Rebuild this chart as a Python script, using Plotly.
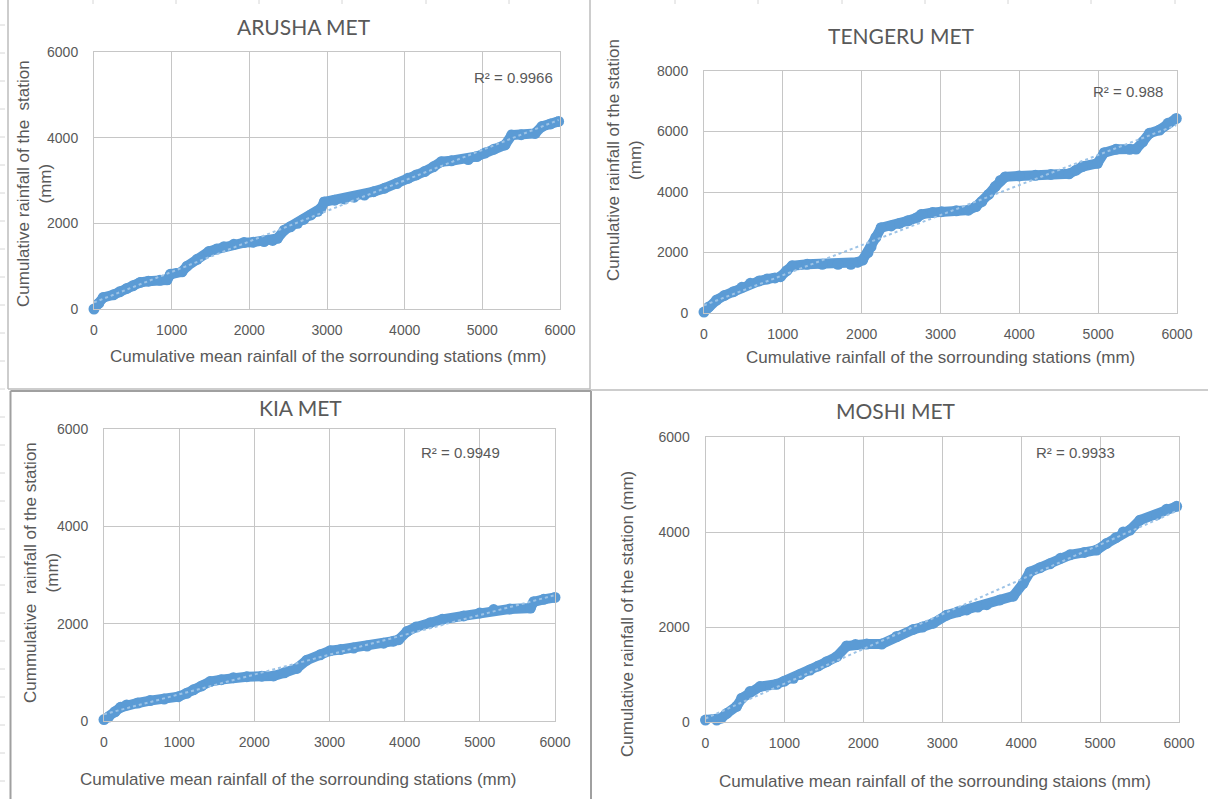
import numpy as np
import plotly.graph_objects as go

# ---- Double-mass curve data (cumulative rainfall, mm) ----
arusha_x = [0, 60, 120, 250, 330, 423, 500, 595, 700, 850, 940, 983, 1133, 1199, 1328, 1478,
            1580, 1673, 1800, 1931, 2050, 2190, 2300, 2362, 2449, 2530, 2621, 2700, 2793, 2880,
            2922, 2965, 3100, 3224, 3350, 3482, 3600, 3741, 3900, 4042, 4150, 4258, 4370, 4473,
            4600, 4818, 4930, 5033, 5150, 5292, 5378, 5500, 5679, 5767, 5880, 5982]
arusha_y = [0, 130, 270, 330, 400, 480, 540, 620, 650, 670, 680, 810, 870, 1000, 1160, 1340,
            1400, 1455, 1510, 1550, 1560, 1575, 1600, 1650, 1840, 1920, 2000, 2090, 2195, 2280,
            2350, 2500, 2540, 2570, 2610, 2660, 2740, 2820, 2930, 3050, 3130, 3210, 3320, 3440,
            3460, 3490, 3560, 3640, 3730, 3830, 4060, 4070, 4100, 4260, 4320, 4380]

tengeru_x = [0, 60, 161, 260, 375, 480, 587, 700, 800, 900, 970, 1050, 1118, 1309, 1500, 1700,
             1863, 1950, 2012, 2080, 2119, 2180, 2247, 2375, 2480, 2587, 2700, 2757, 2900, 3013,
             3200, 3353, 3450, 3524, 3610, 3694, 3760, 3821, 4000, 4204, 4400, 4630, 4720, 4800,
             4991, 5077, 5226, 5400, 5481, 5565, 5650, 5779, 5885, 5991]
tengeru_y = [30, 200, 430, 580, 705, 850, 980, 1060, 1120, 1160, 1200, 1400, 1560, 1610, 1610, 1610,
             1610, 1680, 1750, 2000, 2190, 2500, 2820, 2880, 2960, 3050, 3150, 3260, 3320, 3350,
             3380, 3400, 3520, 3680, 3920, 4180, 4380, 4500, 4530, 4550, 4580, 4600, 4720, 4840,
             4950, 5300, 5410, 5410, 5420, 5660, 5940, 6050, 6270, 6430]

kia_x = [0, 60, 146, 220, 302, 450, 613, 800, 990, 1100, 1190, 1300, 1412, 1560, 1722, 1900,
         2100, 2255, 2400, 2566, 2699, 2877, 3010, 3150, 3321, 3500, 3720, 3850, 3920, 4032,
         4150, 4342, 4500, 4785, 5000, 5184, 5400, 5673, 5717, 5850, 6000]
kia_y = [30, 80, 190, 280, 330, 370, 420, 450, 500, 570, 640, 720, 810, 850, 890, 910,
         920, 925, 990, 1080, 1250, 1360, 1445, 1470, 1500, 1540, 1600, 1640, 1670, 1840,
         1930, 2020, 2090, 2160, 2220, 2290, 2300, 2320, 2450, 2500, 2540]

moshi_x = [0, 142, 200, 269, 395, 459, 564, 691, 902, 1000, 1113, 1200, 1324, 1430, 1536, 1662,
           1789, 1900, 2043, 2233, 2423, 2633, 2750, 2887, 3056, 3200, 3310, 3450, 3563, 3732,
           3900, 4027, 4112, 4240, 4365, 4500, 4619, 4800, 4957, 5083, 5200, 5294, 5379, 5506,
           5717, 5844, 5970]
moshi_y = [40, 42, 80, 180, 330, 500, 640, 745, 795, 860, 920, 1000, 1095, 1180, 1270, 1375,
           1600, 1630, 1640, 1640, 1800, 1950, 2000, 2080, 2250, 2320, 2360, 2420, 2470, 2570,
           2650, 2920, 3160, 3250, 3330, 3450, 3520, 3570, 3620, 3760, 3880, 4000, 4040, 4250,
           4360, 4480, 4540]

titles = ["ARUSHA MET", "TENGERU MET", "KIA MET", "MOSHI MET"]
r2_labels = ["R² = 0.9966", "R² = 0.988", "R² = 0.9949", "R² = 0.9933"]
x_titles = [
    "Cumulative mean rainfall of the sorrounding stations (mm)",
    "Cumulative rainfall of the sorrounding stations (mm)",
    "Cumulative mean rainfall of the sorrounding stations (mm)",
    "Cumulative mean rainfall of the sorrounding staions (mm)",
]
y_titles = [
    "Cumulative rainfall of the  station<br>(mm)",
    "Cumulative rainfall of the station<br>(mm)",
    "Cummulative  rainfall of the station<br>(mm)",
    "Cumulative rainfall of the station (mm)",
]
x_ticks = [0, 1000, 2000, 3000, 4000, 5000, 6000]
y_max = [6000, 8000, 6000, 6000]

series = [(arusha_x, arusha_y), (tengeru_x, tengeru_y), (kia_x, kia_y), (moshi_x, moshi_y)]

W, H = 1208, 799
BLUE = "#5B9BD5"
TREND = "#9DC3E6"
GRID = "#C6C6C6"
TXT = "#595959"
FONT = "Liberation Sans, Arial, sans-serif"
TFONT = "Lato, Open Sans, sans-serif"


def px(x):
    return x / W


def py(y):
    return 1 - y / H


# plot-area boxes in pixels: (left, right, top, bottom)
boxes = [(94, 560, 52, 309), (704, 1177, 71, 313), (104, 555, 429, 721), (705.5, 1179, 437, 722)]
title_pos = [(304, 27), (901, 35), (300, 408), (896, 410)]
r2_pos = [(555, 77), (1165, 91), (502, 452), (1117, 452)]
xt_pos = [(328, 356), (940, 357), (298, 779), (935, 781)]
yt_pos = [(35, 184), (624, 160), (41, 573), (627, 614)]

fig = go.Figure()
annotations = []
shapes = []

for i, (xs, ys) in enumerate(series):
    n = "" if i == 0 else str(i + 1)
    xa, ya = "x" + n, "y" + n
    xs_a, ys_a = np.array(xs, float), np.array(ys, float)

    fig.add_trace(go.Scatter(
        x=xs, y=ys, xaxis=xa, yaxis=ya, mode="lines+markers",
        line=dict(color=BLUE, width=10),
        marker=dict(color=BLUE, size=11),
        cliponaxis=False, showlegend=False, hoverinfo="skip"))

    # linear trendline
    slope, icpt = np.polyfit(xs_a, ys_a, 1)
    tx = np.array([xs_a.min(), xs_a.max()])
    fig.add_trace(go.Scatter(
        x=tx, y=slope * tx + icpt, xaxis=xa, yaxis=ya, mode="lines",
        line=dict(color=TREND, width=2, dash="dot"),
        showlegend=False, hoverinfo="skip"))

    l, r, t, b = boxes[i]
    axis_common = dict(showgrid=True, gridcolor=GRID, gridwidth=1, zeroline=False,
                       showline=True, linecolor=GRID, linewidth=1, mirror=True,
                       automargin=False,
                       tickfont=dict(family=FONT, size=14, color=TXT), fixedrange=True)
    fig.update_layout(**{
        "xaxis" + n: dict(domain=[px(l), px(r)], range=[0, 6000], tickvals=x_ticks,
                          anchor=ya, ticklabelstandoff=8, **axis_common),
        "yaxis" + n: dict(domain=[py(b), py(t)], range=[0, y_max[i]], dtick=2000,
                          anchor=xa, ticklabelstandoff=12, **axis_common),
    })

    tx_, ty_ = title_pos[i]
    annotations.append(dict(text=titles[i], x=px(tx_), y=py(ty_), xref="paper", yref="paper",
                            showarrow=False, xanchor="center", yanchor="middle",
                            font=dict(family=TFONT, size=21, color=TXT)))
    rx, ry = r2_pos[i]
    annotations.append(dict(text=r2_labels[i], x=px(rx), y=py(ry), xref="paper", yref="paper",
                            showarrow=False, xanchor="right", yanchor="middle",
                            font=dict(family=FONT, size=15, color=TXT)))
    xx, xy = xt_pos[i]
    annotations.append(dict(text=x_titles[i], x=px(xx), y=py(xy), xref="paper", yref="paper",
                            showarrow=False, xanchor="center", yanchor="middle",
                            font=dict(family=FONT, size=17, color=TXT)))
    yx, yy = yt_pos[i]
    annotations.append(dict(text=y_titles[i], x=px(yx), y=py(yy), xref="paper", yref="paper",
                            showarrow=False, xanchor="center", yanchor="middle", textangle=-90,
                            font=dict(family=FONT, size=17, color=TXT)))


def hline(x0, x1, y, color, width):
    shapes.append(dict(type="line", xref="paper", yref="paper", x0=px(x0), x1=px(x1),
                       y0=py(y), y1=py(y), line=dict(color=color, width=width)))


def vline(x, y0, y1, color, width):
    shapes.append(dict(type="line", xref="paper", yref="paper", x0=px(x), x1=px(x),
                       y0=py(y0), y1=py(y1), line=dict(color=color, width=width)))


# panel frames
FRAME = "#BDBDBD"
vline(8, 0, 389, FRAME, 1.5)
hline(8, 590, 389, FRAME, 1.5)
vline(590, 0, 389, FRAME, 1.5)
hline(590, 1208, 390, FRAME, 1.5)
DARK = "#A0A0A0"
vline(10.5, 391, 799, DARK, 2)
hline(10.5, 591, 391, DARK, 2)
vline(591, 391, 799, DARK, 2)

# faint sheet cell marks along the top and left edges
for cx in [93, 176, 259, 342, 426, 509, 675, 758, 842, 925, 1008, 1091, 1175]:
    vline(cx, 0, 4, "#D6D6D6", 1)
for cy in range(25, 790, 28):
    hline(0, 5, cy, "#D6D6D6", 1)

fig.update_layout(
    width=W, height=H, margin=dict(l=0, r=0, t=0, b=0, autoexpand=False),
    paper_bgcolor="white", plot_bgcolor="white",
    annotations=annotations, shapes=shapes, showlegend=False,
)

fig.write_html("out.html")
